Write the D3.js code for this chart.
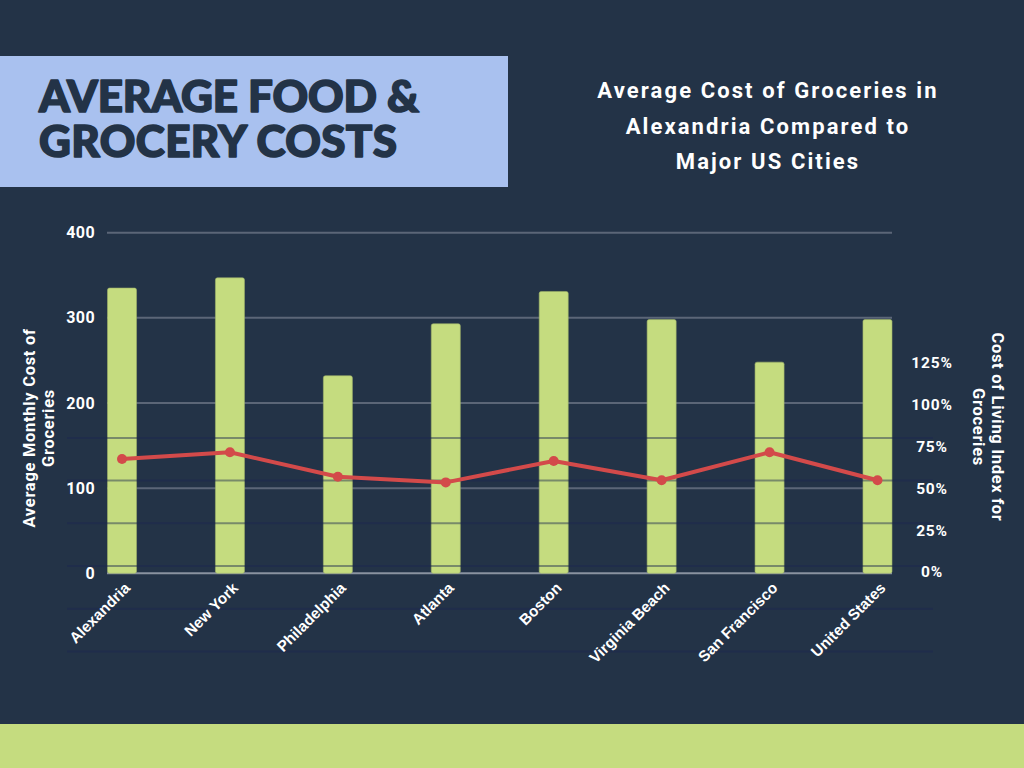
<!DOCTYPE html>
<html><head><meta charset="utf-8">
<script src="https://cdn.jsdelivr.net/npm/d3@7"></script>
<style>html,body{margin:0;padding:0;background:#233347;}svg{display:block;}</style>
</head><body>
<svg id="c" width="1024" height="768"></svg>
<script>
const categories = ["Alexandria","New York","Philadelphia","Atlanta","Boston","Virginia Beach","San Francisco","United States"];
const monthlyCost = [335, 347, 232, 293, 331, 298, 248, 298];
const costIndex = [67.6, 71.6, 57.0, 53.6, 66.4, 54.9, 71.6, 54.9];
const leftTicks = [0, 100, 200, 300, 400];
const rightTicks = [0, 25, 50, 75, 100, 125];
const rightGrid = [-50, -25, 0, 25, 50, 75];

const svg = d3.select("#c");
const BG = "#233347", GREEN = "#c5dc7f", RED = "#d34a4a";

svg.append("rect").attr("width",1024).attr("height",768).attr("fill",BG);
svg.append("rect").attr("x",0).attr("y",724).attr("width",1024).attr("height",44).attr("fill",GREEN);

// Title box
svg.append("rect").attr("x",0).attr("y",56).attr("width",508).attr("height",131).attr("fill","#a9c1ef");
const t = svg.append("text").attr("fill","#233347").attr("stroke","#233347").attr("stroke-width",1.6)
  .attr("stroke-linejoin","round").attr("font-family","Lato, 'Open Sans', sans-serif")
  .attr("font-weight",900).attr("font-size",44);
t.append("tspan").attr("x",39).attr("y",112).attr("textLength",380).attr("lengthAdjust","spacing").text("AVERAGE FOOD &");
t.append("tspan").attr("x",39).attr("y",157).attr("textLength",358).attr("lengthAdjust","spacing").text("GROCERY COSTS");

// Subtitle
const sub = svg.append("text").attr("fill","#ffffff").attr("font-family","Roboto, sans-serif")
  .attr("font-weight",700).attr("font-size",22).attr("text-anchor","middle").attr("letter-spacing",2.1);
[["Average Cost of Groceries in",98],["Alexandria Compared to",134],["Major US Cities",169]].forEach(([s,y])=>{
  sub.append("tspan").attr("x",768).attr("y",y).text(s);
});

// Scales
const x = d3.scaleBand().domain(categories).range([107.5, 892]).paddingInner(0.731).paddingOuter(0);
const y = d3.scaleLinear().domain([0,400]).range([573.3, 232.7]);
const y2 = d3.scaleLinear().domain([0,125]).range([572, 363]);
const yGrid = d3.scaleLinear().domain([0,25]).range([566, 523.3]);

// Left gridlines
svg.append("g").selectAll("line").data(leftTicks).join("line")
  .attr("x1",107).attr("x2",892).attr("y1",d=>y(d)).attr("y2",d=>y(d))
  .attr("stroke",d=>d===0?"#8a93a0":"#5b6677").attr("stroke-width",2);

// Left tick labels
const yAxis = d3.axisLeft(y).tickValues(leftTicks).tickSize(0).tickPadding(0).tickFormat(d3.format("d"));
const gy = svg.append("g").attr("transform","translate(95,0)").call(yAxis);
gy.select(".domain").remove();
gy.selectAll("text").attr("fill","#fff").attr("font-family","Roboto, sans-serif").attr("font-weight",700)
  .attr("font-size",16).attr("letter-spacing",0.4);

// Bars
svg.append("g").selectAll("rect").data(categories).join("rect")
  .attr("x",d=>x(d)).attr("width",x.bandwidth())
  .attr("y",(d,i)=>y(monthlyCost[i])).attr("height",(d,i)=>y(0)-y(monthlyCost[i]))
  .attr("rx",2).attr("fill",GREEN).attr("stroke","#9fb36a").attr("stroke-width",0.6);

// Right gridlines (drawn on top, translucent)
svg.append("g").selectAll("line").data(rightGrid).join("line")
  .attr("x1",67).attr("x2",933).attr("y1",d=>yGrid(d)).attr("y2",d=>yGrid(d))
  .attr("stroke","#1b2550").attr("stroke-opacity",0.45).attr("stroke-width",2);

// Right tick labels
const y2Axis = d3.axisRight(y2).tickValues(rightTicks).tickSize(0).tickPadding(0).tickFormat(d=>d+"%");
const gy2 = svg.append("g").attr("transform","translate(932,0)").call(y2Axis);
gy2.select(".domain").remove();
gy2.selectAll("text").attr("text-anchor","middle").attr("fill","#fff").attr("font-family","Roboto, sans-serif")
  .attr("font-weight",700).attr("font-size",15.5).attr("letter-spacing",0.8);

// Line
const cx = d => x(d) + x.bandwidth()/2;
const line = d3.line().x((d,i)=>cx(categories[i])).y(d=>y2(d));
svg.append("path").datum(costIndex).attr("d",line).attr("fill","none").attr("stroke",RED).attr("stroke-width",4).attr("stroke-linejoin","round");
svg.append("g").selectAll("circle").data(costIndex).join("circle")
  .attr("cx",(d,i)=>cx(categories[i])).attr("cy",d=>y2(d)).attr("r",5).attr("fill",RED);

// X labels
svg.append("g").selectAll("text").data(categories).join("text")
  .attr("transform",d=>`translate(${cx(d)+9},${589}) rotate(-45)`)
  .attr("text-anchor","end").attr("fill","#fff").attr("font-family","'Liberation Sans', Arial, sans-serif")
  .attr("font-weight",700).attr("font-size",15.3).text(d=>d);

// Axis titles
const lt = svg.append("text").attr("transform","translate(0,428) rotate(-90)").attr("text-anchor","middle")
  .attr("fill","#fff").attr("font-family","Roboto, sans-serif").attr("font-weight",700).attr("font-size",16.5).attr("letter-spacing",0.7);
lt.append("tspan").attr("x",0).attr("y",35).text("Average Monthly Cost of");
lt.append("tspan").attr("x",0).attr("y",54).text("Groceries");

const rt = svg.append("text").attr("transform","translate(0,427) rotate(90)").attr("text-anchor","middle")
  .attr("fill","#fff").attr("font-family","Roboto, sans-serif").attr("font-weight",700).attr("font-size",16.5).attr("letter-spacing",0.7);
rt.append("tspan").attr("x",0).attr("y",-992).text("Cost of Living Index for");
rt.append("tspan").attr("x",0).attr("y",-973).text("Groceries");
</script>
</body></html>
